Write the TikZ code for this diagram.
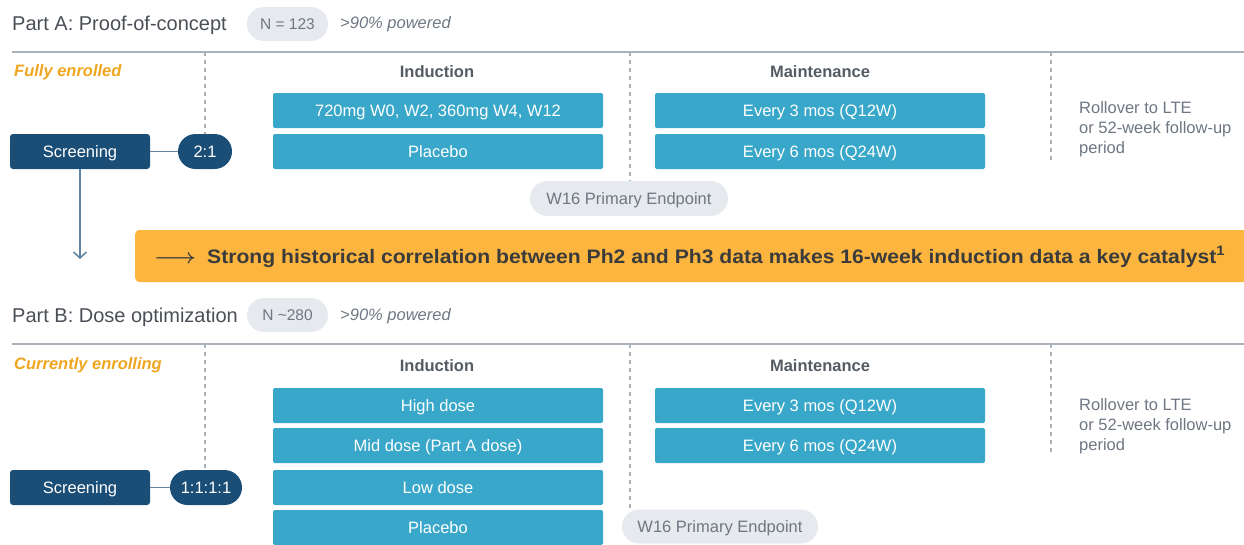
\documentclass[tikz,border=0pt]{standalone}
\usepackage{fontspec}
\usepackage{graphicx}
\setmainfont{Liberation Sans}
\usetikzlibrary{arrows.meta}
\definecolor{tealc}{HTML}{38A7C9}
\definecolor{navy}{HTML}{1B4E77}
\definecolor{bannerc}{HTML}{FCB63F}
\definecolor{orangetxt}{HTML}{EFA51E}
\definecolor{graytxt}{HTML}{6E7782}
\definecolor{headtxt}{HTML}{545B63}
\definecolor{pillfill}{HTML}{E6E9ED}
\definecolor{rulec}{HTML}{A9B1BA}
\definecolor{darktxt}{HTML}{3B3B3B}
\definecolor{titletxt}{HTML}{4A4F55}
\begin{document}
\begin{tikzpicture}[x=1pt,y=-1pt,
  base/.style={inner sep=0pt, text height=11.8pt, text depth=0pt, font=\fontsize{16.5}{19}\selectfont},
  tealbox/.style={base, fill=tealc, text=white, minimum width=330pt, minimum height=35pt, rounded corners=2pt},
  navybox/.style={base, fill=navy, text=white, minimum width=140pt, minimum height=35pt, rounded corners=3pt},
  ratio/.style={base, fill=navy, text=white, minimum height=35pt, rounded corners=17.5pt},
  graypill/.style={base, fill=pillfill, text=graytxt, minimum height=34pt, rounded corners=17pt},
  title/.style={inner sep=0pt, text height=14.5pt, text depth=0pt, anchor=west, text=titletxt, font=\fontsize{20}{24}\selectfont},
  powered/.style={base, anchor=west, text=graytxt, font=\fontsize{16.5}{19}\selectfont\itshape},
  status/.style={base, anchor=west, text=orangetxt, font=\fontsize{16.5}{19}\selectfont\bfseries\itshape},
  heading/.style={base, text=headtxt, font=\fontsize{16.5}{19}\selectfont\bfseries},
  rollover/.style={inner sep=0pt, anchor=north west, align=left, text=graytxt, font=\fontsize{16.5}{20}\selectfont},
  rule/.style={draw=rulec, line width=1.2pt},
  dashline/.style={draw=rulec, line width=1.2pt, dash pattern=on 4pt off 4pt},
  link/.style={draw=navy!70, line width=1.5pt}
]
\useasboundingbox (0,0) rectangle (1244,544);

% ---------- Part A ----------
\node[title] (titleA) at (12,23) {Part A: Proof-of-concept};
\node[graypill, minimum width=81pt, text height=11pt, font=\fontsize{15.5}{18}\selectfont] (nA) at (287.5,24) {N = 123};
\node[powered] (powA) at (340,23) {>90\% powered};
\coordinate (ruleAl) at (12,52);
\coordinate (ruleAr) at (1244,52);
\draw[rule] (ruleAl) -- (ruleAr);
\node[status] (statA) at (14,71) {Fully enrolled};
\node[heading] (indA) at (437,72) {Induction};
\node[heading] (maiA) at (820,72) {Maintenance};

\node[tealbox] (iA1) at (438,110.5) {720mg W0, W2, 360mg W4, W12};
\node[tealbox] (iA2) at (438,151.5) {Placebo};
\node[tealbox] (mA1) at (820,110.5) {Every 3 mos (Q12W)};
\node[tealbox] (mA2) at (820,151.5) {Every 6 mos (Q24W)};

\node[navybox] (scrA) at (80,151.5) {Screening};
\node[ratio, minimum width=54pt] (ratA) at (205,151.5) {2:1};
\draw[link] (scrA) -- (ratA);

\node[graypill, minimum width=198pt, minimum height=35pt, rounded corners=17.5pt] (w16A) at (629,198.5) {W16 Primary Endpoint};

\node[rollover] (rollA) at (1079,101) {Rollover to LTE\\or 52-week follow-up\\period};

\coordinate (dA1) at (205,52);
\coordinate (dA2) at (630,52);
\coordinate (dA3) at (1051,52);
\coordinate (dA3e) at (1051,162);
\draw[dashline] (dA1) -- (ratA.north);
\draw[dashline] (dA2) -- (w16A.north -| dA2);
\draw[dashline] (dA3) -- (dA3e);

% banner
\node[inner sep=0pt, fill=bannerc, rounded corners=4pt, minimum width=1115pt, minimum height=52pt, anchor=west] (banner) at (135,256) {};
\node[inner sep=0pt, anchor=west, text=darktxt, font=\fontsize{19.5}{21}\selectfont] (bannertxt) at (154,257)
  {\resizebox{42pt}{\height}{\boldmath\(\longrightarrow\)}\hspace{11pt}\resizebox{1018pt}{\height}{\bfseries Strong historical correlation between Ph2 and Ph3 data makes 16-week induction data a key catalyst\textsuperscript{1}}};

\coordinate (arrEnd) at (80,259);
\draw[link, -{Straight Barb[length=6pt,width=13pt]}] (scrA.south) -- (arrEnd);

% ---------- Part B ----------
\node[title] (titleB) at (12,315) {Part B: Dose optimization};
\node[graypill, minimum width=81pt, text height=11pt, font=\fontsize{15.5}{18}\selectfont] (nB) at (287.5,315) {N \textasciitilde280};
\node[powered] (powB) at (340,315) {>90\% powered};
\coordinate (ruleBl) at (12,344);
\coordinate (ruleBr) at (1244,344);
\draw[rule] (ruleBl) -- (ruleBr);
\node[status] (statB) at (14,364) {Currently enrolling};
\node[heading] (indB) at (437,366) {Induction};
\node[heading] (maiB) at (820,366) {Maintenance};

\node[tealbox] (iB1) at (438,405.5) {High dose};
\node[tealbox] (iB2) at (438,445.5) {Mid dose (Part A dose)};
\node[tealbox] (iB3) at (438,487.5) {Low dose};
\node[tealbox] (iB4) at (438,527.5) {Placebo};
\node[tealbox] (mB1) at (820,405.5) {Every 3 mos (Q12W)};
\node[tealbox] (mB2) at (820,445.5) {Every 6 mos (Q24W)};

\node[navybox] (scrB) at (80,487.5) {Screening};
\node[ratio, minimum width=72pt] (ratB) at (206,487.5) {1:1:1:1};
\draw[link] (scrB) -- (ratB);

\node[graypill, minimum width=196pt] (w16B) at (720,526.5) {W16 Primary Endpoint};

\node[rollover] (rollB) at (1079,398) {Rollover to LTE\\or 52-week follow-up\\period};

\coordinate (dB1) at (205,344);
\coordinate (dB2) at (630,344);
\coordinate (dB2e) at (630,510);
\coordinate (dB3) at (1051,344);
\coordinate (dB3e) at (1051,455);
\draw[dashline] (dB1) -- (ratB.north -| dB1);
\draw[dashline] (dB2) -- (dB2e);
\draw[dashline] (dB3) -- (dB3e);
\end{tikzpicture}
\end{document}
